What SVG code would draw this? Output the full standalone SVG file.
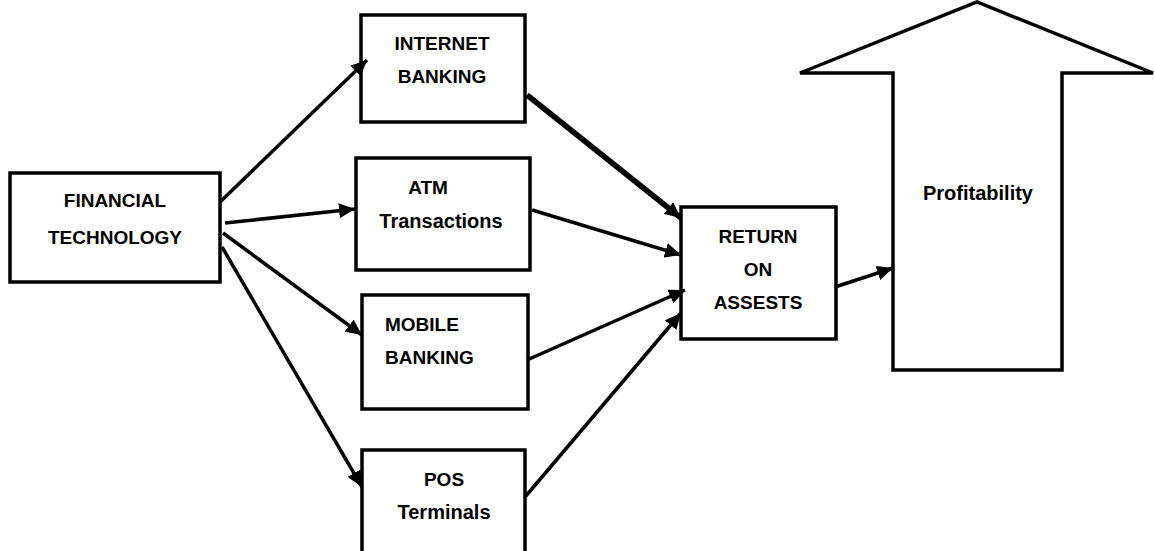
<svg xmlns="http://www.w3.org/2000/svg" width="1155" height="551" viewBox="0 0 1155 551">
<defs>
<style>
.box{fill:#fff;stroke:#000;stroke-width:3.5}
.t{font-family:"Liberation Sans",Arial,sans-serif;font-weight:bold;font-size:19px;fill:#000}
.m{font-size:20px}
.c{text-anchor:middle}
.ln{stroke:#000;stroke-width:3.5;fill:none;marker-end:url(#ah)}
</style>
<marker id="ah" markerUnits="userSpaceOnUse" markerWidth="17" markerHeight="15" refX="16" refY="7.5" orient="auto">
<path d="M0,0 L16,7.5 L0,15 z" fill="#000"/>
</marker>
</defs>
<rect width="1155" height="551" fill="#fff"/>
<g id="financial-technology">
<rect class="box" x="10" y="173" width="210" height="109"/>
<text class="t c" x="115" y="207">FINANCIAL</text>
<text class="t c" x="115" y="244">TECHNOLOGY</text>
</g>
<g id="internet-banking">
<rect class="box" x="361" y="15" width="164" height="107"/>
<text class="t c" x="442" y="50">INTERNET</text>
<text class="t c" x="442" y="83">BANKING</text>
</g>
<g id="atm-transactions">
<rect class="box" x="356" y="158" width="174" height="112"/>
<text class="t c" x="428" y="194">ATM</text>
<text class="t m c" x="441" y="228">Transactions</text>
</g>
<g id="mobile-banking">
<rect class="box" x="362" y="295" width="166" height="114"/>
<text class="t" x="385" y="331">MOBILE</text>
<text class="t" x="385" y="364">BANKING</text>
</g>
<g id="pos-terminals">
<rect class="box" x="362" y="450" width="163" height="110"/>
<text class="t c" x="444" y="486">POS</text>
<text class="t m c" x="444" y="519">Terminals</text>
</g>
<g id="return-on-assets">
<rect class="box" x="681" y="207" width="155" height="132"/>
<text class="t c" x="758" y="243">RETURN</text>
<text class="t c" x="758" y="276">ON</text>
<text class="t c" x="758" y="309">ASSESTS</text>
</g>
<g id="profitability">
<polygon class="box" points="893,370 893,73 800,73 977,2 1153,73 1062,73 1062,370"/>
<text class="t m c" x="978" y="200">Profitability</text>
</g>
<g id="connectors">
<line class="ln" x1="220" y1="202" x2="367" y2="60"/>
<line class="ln" x1="225" y1="223" x2="355" y2="209"/>
<line class="ln" x1="223" y1="233" x2="362" y2="335"/>
<line class="ln" x1="222" y1="247" x2="362" y2="487"/>
<line class="ln" x1="527" y1="95" x2="681" y2="218" style="stroke-width:5.5"/>
<line class="ln" x1="532" y1="210" x2="681" y2="255"/>
<line class="ln" x1="527" y1="360" x2="685" y2="290"/>
<line class="ln" x1="525" y1="497" x2="681" y2="313"/>
<line class="ln" x1="835" y1="287" x2="893" y2="268"/>
</g>
</svg>
